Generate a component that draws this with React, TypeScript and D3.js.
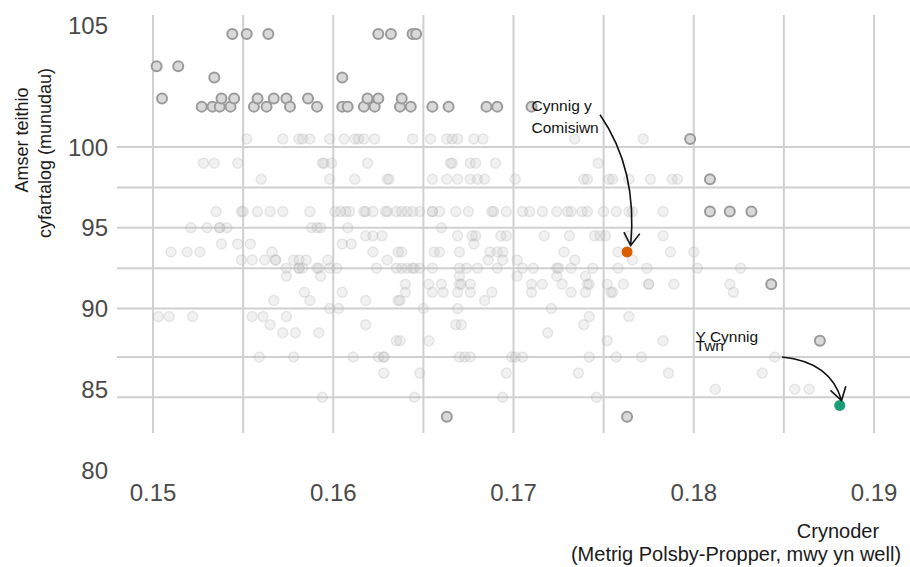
import React from "react";
import * as d3 from "d3";

// ---- data ----
const xTickValues = [0.15, 0.16, 0.17, 0.18, 0.19];
const xTickLabels = ["0.15", "0.16", "0.17", "0.18", "0.19"];
const xGridValues = [0.15, 0.155, 0.16, 0.165, 0.17, 0.175, 0.18, 0.185, 0.19];
const yTickValues = [80, 85, 90, 95, 100, 107.5];
const yTickLabels = ["80", "85", "90", "95", "100", "105"];
const yGridValues = [100, 97.5, 95, 92.5, 90, 87, 84.5];

// highlighted (outlined) plans
const darkPoints: [number, number][] = [
  [0.1544, 107], [0.1552, 107], [0.1564, 107], [0.1502, 105], [0.1514, 105], [0.1534, 104.3], [0.1505, 103],
  [0.1527, 102.5], [0.1533, 102.5], [0.1537, 102.5], [0.1538, 103], [0.1543, 102.5], [0.1545, 103],
  [0.1556, 102.5], [0.1558, 103], [0.1563, 102.5], [0.1567, 103], [0.1574, 103], [0.1576, 102.5], [0.1586, 103], [0.1591, 102.5],
  [0.1605, 104.3], [0.1605, 102.5], [0.1608, 102.5], [0.1617, 102.5], [0.1619, 103], [0.1623, 102.5], [0.1625, 103],
  [0.1625, 107], [0.1632, 107], [0.1637, 102.5], [0.1638, 103], [0.1643, 102.5], [0.1644, 107], [0.1646, 107],
  [0.1655, 102.5], [0.1664, 102.5], [0.1685, 102.5], [0.1691, 102.5], [0.171, 102.5],
  [0.1798, 100.5], [0.1809, 98], [0.1809, 96], [0.182, 96], [0.1832, 96], [0.1843, 91.5], [0.187, 88],
  [0.1663, 83.3], [0.1763, 83.3],
];

// faint plans, grouped by travel time row
const lightRows: [number, number[]][] = [
  [100.5, [0.1552, 0.1572, 0.1581, 0.1583, 0.1587, 0.1598, 0.1606, 0.1612, 0.1614, 0.1617, 0.1623, 0.1644, 0.1654, 0.1663, 0.1666, 0.1669, 0.1678, 0.1683, 0.1734, 0.1772]],
  [99, [0.1528, 0.1534, 0.1547, 0.1594, 0.1595, 0.1599, 0.1619, 0.1665, 0.1666, 0.1676, 0.1679, 0.169, 0.1747]],
  [98, [0.156, 0.1598, 0.1612, 0.163, 0.1631, 0.1655, 0.1663, 0.1669, 0.1676, 0.168, 0.1684, 0.1701, 0.1739, 0.1741, 0.1753, 0.1755, 0.1764, 0.1776, 0.1788, 0.1791]],
  [96, [0.1535, 0.1549, 0.155, 0.1558, 0.1565, 0.1572, 0.1587, 0.1601, 0.1604, 0.1607, 0.1609, 0.1617, 0.1618, 0.1622, 0.1629, 0.163, 0.1635, 0.1638, 0.1641, 0.1644, 0.1648, 0.1655, 0.1655, 0.1659, 0.1668, 0.1675, 0.1688, 0.1689, 0.1696, 0.1705, 0.1709, 0.1716, 0.1724, 0.173, 0.1732, 0.1738, 0.1741, 0.175, 0.1757, 0.1764, 0.1766, 0.1783]],
  [95, [0.1521, 0.153, 0.1537, 0.1537, 0.1541, 0.1588, 0.1591, 0.1593, 0.1608, 0.166]],
  [94.5, [0.1618, 0.1622, 0.1627, 0.1669, 0.1677, 0.1679, 0.1693, 0.1696, 0.1717, 0.1731, 0.1745, 0.1748, 0.1751, 0.1764, 0.1783]],
  [94, [0.1538, 0.1547, 0.1554, 0.1605, 0.161, 0.1678]],
  [93.5, [0.151, 0.1519, 0.1526, 0.1566, 0.1622, 0.1636, 0.1638, 0.1656, 0.1659, 0.167, 0.1687, 0.1691, 0.1694, 0.1728, 0.1758, 0.1787, 0.18]],
  [93, [0.1549, 0.1555, 0.1562, 0.1568, 0.1568, 0.1578, 0.1581, 0.1585, 0.1597, 0.163, 0.1686, 0.1694, 0.1702, 0.1734, 0.1766]],
  [92.5, [0.1574, 0.1581, 0.1581, 0.1583, 0.1591, 0.1592, 0.1598, 0.1602, 0.1624, 0.1635, 0.1638, 0.1641, 0.1644, 0.1645, 0.1648, 0.1655, 0.167, 0.1674, 0.168, 0.1691, 0.1705, 0.1711, 0.1724, 0.1725, 0.1732, 0.1744, 0.1758, 0.1774, 0.1802, 0.1826]],
  [92, [0.1574, 0.1593, 0.167, 0.1702, 0.1724, 0.174]],
  [91.5, [0.164, 0.1653, 0.166, 0.167, 0.1671, 0.1676, 0.171, 0.1716, 0.1727, 0.1741, 0.1742, 0.1752, 0.1761, 0.1775, 0.1775, 0.1789, 0.182]],
  [91, [0.1584, 0.1605, 0.164, 0.1655, 0.1661, 0.1669, 0.1676, 0.1688, 0.171, 0.1732, 0.174, 0.1754, 0.1755, 0.1822]],
  [90.5, [0.1567, 0.1587, 0.1618, 0.1636, 0.1637, 0.1684]],
  [90, [0.1598, 0.1603, 0.165, 0.1669, 0.1721]],
  [89.5, [0.1503, 0.1509, 0.1522, 0.1555, 0.1561, 0.1574, 0.1742, 0.1764]],
  [89, [0.1565, 0.1618, 0.1668, 0.1671, 0.1739]],
  [88.5, [0.1572, 0.1579, 0.1592, 0.1719]],
  [88, [0.1635, 0.1637, 0.1653, 0.1752, 0.1783]],
  [87, [0.1559, 0.1578, 0.1611, 0.1625, 0.1628, 0.1628, 0.167, 0.1673, 0.1676, 0.1699, 0.1701, 0.1705, 0.1742, 0.1757, 0.1771, 0.1845]],
  [86, [0.1628, 0.1648, 0.1696, 0.1736, 0.1786, 0.1838]],
  [85, [0.1812, 0.1856, 0.1864]],
  [84.5, [0.1594, 0.1645, 0.1694, 0.1746]],
];

const commissionPlan: [number, number] = [0.1763, 93.5];
const originalPlan: [number, number] = [0.1881, 84];

// annotations: label lines, label anchor, arrow start / control / end (data units)
const commissionLabel = ["Cynnig y", "Comisiwn"];
const commissionLabelAt: [number, number] = [0.171, 102.2];
const commissionArrow: [number, number][] = [[0.1748, 102.0], [0.1769, 98.6], [0.1765, 93.9]];
const originalLabel = ["Y Cynnig", "Twn"];
const originalLabelAt: [number, number] = [0.1801, 87.9];
const originalArrow: [number, number][] = [[0.1849, 87.0], [0.1876, 86.7], [0.1882, 84.3]];

const xTitle = ["Crynoder", "(Metrig Polsby-Propper, mwy yn well)"];
const yTitle = ["Amser teithio", "cyfartalog (munudau)"];

const W = 910;
const H = 567;
const FONT = "'Liberation Sans', Arial, Helvetica, sans-serif";

export default function App() {
  const x = d3.scaleLinear().domain([0.15, 0.19]).range([153, 874]);
  const y = d3.scaleLinear().domain([80, 100]).range([470, 147]);

  const lightPoints: [number, number][] = [];
  lightRows.forEach(([yy, xs]) => xs.forEach((xx) => lightPoints.push([xx, yy])));

  const arrow = (pts: [number, number][]) => {
    const [p0, c, p1] = pts.map(([a, b]) => [x(a), y(b)] as [number, number]);
    const p = d3.path();
    p.moveTo(p0[0], p0[1]);
    p.quadraticCurveTo(c[0], c[1], p1[0], p1[1]);
    const ang = Math.atan2(p1[1] - c[1], p1[0] - c[0]);
    const len = 15;
    const spread = 0.56;
    const h = d3.path();
    h.moveTo(p1[0] - len * Math.cos(ang - spread), p1[1] - len * Math.sin(ang - spread));
    h.lineTo(p1[0], p1[1]);
    h.lineTo(p1[0] - len * Math.cos(ang + spread), p1[1] - len * Math.sin(ang + spread));
    return (
      <g fill="none" stroke="#111" strokeWidth={1.6}>
        <path d={p.toString()} />
        <path d={h.toString()} strokeLinejoin="miter" />
      </g>
    );
  };

  return (
    <svg
      width={W}
      height={H}
      style={{ position: "absolute", left: 0, top: 0, background: "#fff" }}
      fontFamily={FONT}
    >
      {/* grid */}
      <g stroke="#d0d0d0" strokeWidth={2}>
        {yGridValues.map((v) => (
          <line key={"h" + v} x1={117} x2={W} y1={y(v)} y2={y(v)} />
        ))}
        {xGridValues.map((v) => (
          <line key={"v" + v} x1={x(v)} x2={x(v)} y1={15} y2={433} />
        ))}
      </g>

      {/* faint points */}
      <g>
        {lightPoints.map(([a, b], i) => (
          <circle
            key={"l" + i}
            cx={x(a)}
            cy={y(b)}
            r={5}
            fill="#bdbdbd"
            fillOpacity={0.22}
            stroke="#b0b0b0"
            strokeOpacity={0.25}
            strokeWidth={1.5}
          />
        ))}
      </g>

      {/* outlined points */}
      <g>
        {darkPoints.map(([a, b], i) => (
          <circle
            key={"d" + i}
            cx={x(a)}
            cy={y(b)}
            r={5}
            fill="#d9d9d9"
            stroke="#9a9a9a"
            strokeWidth={2}
          />
        ))}
      </g>

      <circle cx={x(commissionPlan[0])} cy={y(commissionPlan[1])} r={5.5} fill="#d95f02" />
      <circle cx={x(originalPlan[0])} cy={y(originalPlan[1])} r={5.5} fill="#1b9e77" />

      {/* annotations */}
      {arrow(commissionArrow)}
      {arrow(originalArrow)}
      <text x={x(commissionLabelAt[0])} y={y(commissionLabelAt[1])} fontSize={15.5} fill="#111">
        <tspan x={x(commissionLabelAt[0])}>{commissionLabel[0]}</tspan>
        <tspan x={x(commissionLabelAt[0])} dy={22}>{commissionLabel[1]}</tspan>
      </text>
      <text x={x(originalLabelAt[0])} y={y(originalLabelAt[1])} fontSize={15.5} fill="#111">
        <tspan x={x(originalLabelAt[0])}>{originalLabel[0]}</tspan>
        <tspan x={x(originalLabelAt[0])} dy={9}>{originalLabel[1]}</tspan>
      </text>

      {/* y tick labels */}
      <g fontSize={24} fill="#4a4a4a" textAnchor="end">
        {yTickValues.map((v, i) => (
          <text key={"yt" + v} x={108} y={y(v) + 8.5}>
            {yTickLabels[i]}
          </text>
        ))}
      </g>
      {/* x tick labels */}
      <g fontSize={24} fill="#4a4a4a" textAnchor="middle">
        {xTickValues.map((v, i) => (
          <text key={"xt" + v} x={x(v)} y={501}>
            {xTickLabels[i]}
          </text>
        ))}
      </g>

      {/* axis titles */}
      <g fontSize={20} fill="#1a1a1a" textAnchor="middle">
        <text x={838} y={538}>{xTitle[0]}</text>
        <text x={736} y={561}>{xTitle[1]}</text>
      </g>
      <g fontSize={18} fill="#1a1a1a" textAnchor="middle">
        <text transform="translate(28,140) rotate(-90)">{yTitle[0]}</text>
        <text transform="translate(51,153) rotate(-90)">{yTitle[1]}</text>
      </g>
    </svg>
  );
}
